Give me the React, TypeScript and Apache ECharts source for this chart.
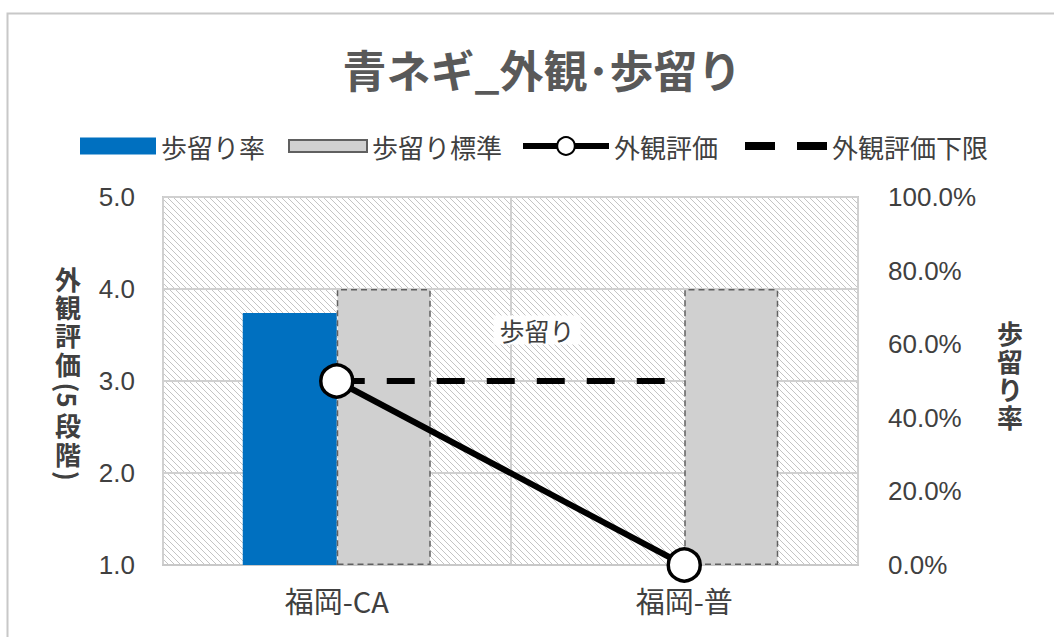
import React, { useEffect, useRef } from "react";
import * as echarts from "echarts";

const categories = ["福岡-CA", "福岡-普"];
const yieldRate = [68.5, null];
const yieldStandard = [75, 75];
const appearance = [3.0, 1.0];
const appearanceLower = [3.0, 3.0];
const leftTicks = { min: 1, max: 5, interval: 1 };
const rightTicks = { min: 0, max: 100, interval: 20 };

const JP = "'Noto Sans CJK JP', sans-serif";
const NUM = "'Liberation Sans', Arial, sans-serif";

function makeHatch(): string {
  const c = document.createElement("canvas");
  c.width = 6;
  c.height = 6;
  const ctx = c.getContext("2d")!;
  ctx.fillStyle = "#ffffff";
  ctx.fillRect(0, 0, 6, 6);
  ctx.strokeStyle = "#c4c4c4";
  ctx.lineWidth = 1;
  ctx.beginPath();
  ctx.moveTo(-1, -1);
  ctx.lineTo(7, 7);
  ctx.moveTo(-1, 5);
  ctx.lineTo(1, 7);
  ctx.moveTo(5, -1);
  ctx.lineTo(7, 1);
  ctx.stroke();
  return c.toDataURL();
}

// vertical stacked axis-name pieces: [text, centerY, rotated]
const leftNameParts: [string, number, boolean][] = [
  ["外", 278, false],
  ["観", 306, false],
  ["評", 334, false],
  ["価", 363, false],
  ["(5", 395, true],
  ["段", 424, false],
  ["階", 453, false],
  [")", 476, true],
];

export default function App() {
  const ref = useRef<HTMLDivElement>(null);
  useEffect(() => {
    const chart = echarts.init(ref.current!, null, { renderer: "svg" });
    const hatch = makeHatch();
    const legendText = { fontFamily: JP, fontSize: 26, color: "#404040" };
    const mkLegend = (item: any, left: number, w: number, h: number, extra: any = {}) => ({
      data: [item],
      left,
      top: 128,
      itemWidth: w,
      itemHeight: h,
      itemGap: 0,
      textStyle: legendText,
      selectedMode: false,
      ...extra,
    });
    const nameTexts = leftNameParts.map(([t, y, rot]) => ({
      type: "text",
      x: 68,
      y,
      rotation: rot ? -Math.PI / 2 : 0,
      style: {
        text: t,
        fontFamily: JP,
        fontSize: 26,
        fontWeight: "bold",
        fill: "#404040",
        align: "center",
        verticalAlign: "middle",
      },
      z: 10,
    }));
    chart.setOption({
      animation: false,
      backgroundColor: "#ffffff",
      title: {
        text: "青ネギ_外観･歩留り",
        left: 537,
        textAlign: "center",
        top: 42,
        textStyle: { fontFamily: JP, fontSize: 44, fontWeight: "bold", color: "#595959" },
      },
      legend: [
        mkLegend({ name: "歩留り率", icon: "rect" }, 75, 76, 17),
        mkLegend({ name: "歩留り標準", icon: "rect" }, 283, 78, 12),
        mkLegend("外観評価", 515, 86, 22, { lineStyle: { width: 6 } }),
        mkLegend(
          { name: "外観評価下限", icon: "path://M0,0H30V8H0Z M52,0H82V8H52Z", itemStyle: { color: "#000000" } },
          740,
          82,
          8
        ),
      ],
      grid: {
        left: 163,
        right: 196,
        top: 197,
        bottom: 72,
        show: true,
        backgroundColor: { image: hatch, repeat: "repeat", imageWidth: 6, imageHeight: 6 } as any,
        borderColor: "#c8c8c8",
        borderWidth: 2,
      },
      xAxis: {
        type: "category",
        data: categories,
        axisTick: { show: false },
        axisLine: { lineStyle: { color: "#c8c8c8", width: 2 } },
        splitLine: { show: true, lineStyle: { color: "#d0d0d0", width: 2 } },
        axisLabel: { fontFamily: JP, fontSize: 29, color: "#404040", margin: 20 },
      },
      yAxis: [
        {
          type: "value",
          min: leftTicks.min,
          max: leftTicks.max,
          interval: leftTicks.interval,
          axisLine: { show: false },
          axisTick: { show: false },
          splitLine: { lineStyle: { color: "#d0d0d0", width: 2 } },
          axisLabel: {
            fontFamily: NUM,
            fontSize: 26,
            color: "#404040",
            margin: 28,
            formatter: (v: number) => v.toFixed(1),
          },
        },
        {
          type: "value",
          min: rightTicks.min,
          max: rightTicks.max,
          interval: rightTicks.interval,
          axisLine: { show: false },
          axisTick: { show: false },
          splitLine: { show: false },
          axisLabel: {
            fontFamily: NUM,
            fontSize: 26,
            color: "#404040",
            margin: 30,
            formatter: (v: number) => v.toFixed(1) + "%",
          },
        },
      ],
      series: [
        {
          name: "歩留り率",
          type: "bar",
          yAxisIndex: 1,
          data: yieldRate,
          barWidth: 94,
          barGap: "0%",
          itemStyle: { color: "#0070c0" },
          z: 2,
        },
        {
          name: "歩留り標準",
          type: "bar",
          yAxisIndex: 1,
          data: yieldStandard,
          barWidth: 94,
          barGap: "0%",
          itemStyle: {
            color: "#d0d0d0",
            borderColor: "#606060",
            borderWidth: 1.5,
            borderType: [6, 4],
          },
          z: 2,
        },
        {
          name: "外観評価下限",
          type: "line",
          yAxisIndex: 0,
          data: appearanceLower,
          symbol: "none",
          lineStyle: { color: "#000000", width: 6, type: [28, 22] },
          itemStyle: { color: "#000000" },
          z: 3,
        },
        {
          name: "外観評価",
          type: "line",
          yAxisIndex: 0,
          data: appearance,
          symbol: "circle",
          symbolSize: 32,
          lineStyle: { color: "#000000", width: 6 },
          itemStyle: { color: "#ffffff", borderColor: "#000000", borderWidth: 3.5 },
          z: 4,
        },
      ],
      graphic: [
        {
          type: "rect",
          left: 5,
          top: 11,
          shape: { width: 1070, height: 650 },
          style: { fill: "none", stroke: "#c8c8c8", lineWidth: 2 },
          silent: true,
          z: 0,
        },
        {
          type: "text",
          x: 537,
          y: 330,
          style: {
            text: "歩留り",
            fontFamily: JP,
            fontSize: 25,
            fill: "#404040",
            align: "center",
            verticalAlign: "middle",
            backgroundColor: "#ffffff",
            padding: [2, 6],
          },
          z: 10,
        },
        ...nameTexts,
        {
          type: "text",
          x: 1010,
          y: 374,
          style: {
            text: "歩\n留\nり\n率",
            fontFamily: JP,
            fontSize: 26,
            fontWeight: "bold",
            lineHeight: 28,
            fill: "#404040",
            align: "center",
            verticalAlign: "middle",
          },
          z: 10,
        },
      ],
    });
    return () => chart.dispose();
  }, []);
  return (
    <div
      ref={ref}
      style={{ position: "absolute", left: 0, top: 0, width: 1054, height: 637 }}
    />
  );
}
